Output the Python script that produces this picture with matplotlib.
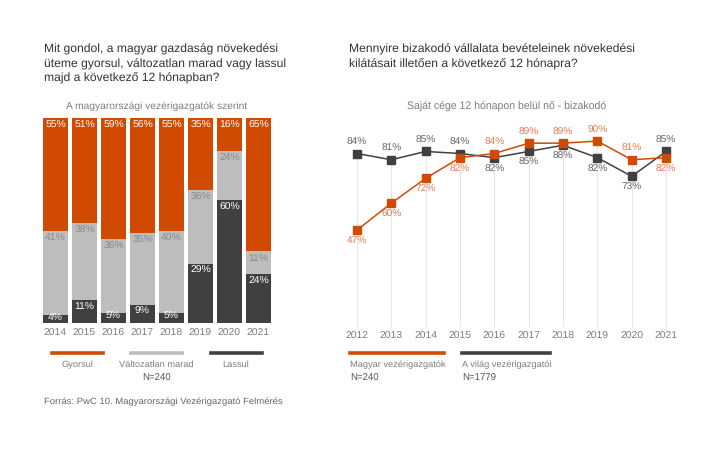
import matplotlib
matplotlib.use("Agg")
import matplotlib.pyplot as plt

plt.rcParams['font.family'] = ['Liberation Sans', 'DejaVu Sans']
plt.rcParams['text.hinting'] = 'no_hinting'

# left chart data
bar_years = ['2014', '2015', '2016', '2017', '2018', '2019', '2020', '2021']
gyorsul = [55, 51, 59, 56, 55, 35, 16, 65]
valtozatlan = [41, 38, 36, 35, 40, 36, 24, 11]
lassul = [4, 11, 5, 9, 5, 29, 60, 24]

# right chart data
line_years = [2012, 2013, 2014, 2015, 2016, 2017, 2018, 2019, 2020, 2021]
magyar = [47, 60, 72, 82, 84, 89, 89, 90, 81, 82]
vilag = [84, 81, 85, 84, 82, 85, 88, 82, 73, 85]
# label placement: 1 above, -1 below
magyar_pos = [-1, -1, -1, -1, 1, 1, 1, 1, 1, -1]
vilag_pos = [1, 1, 1, 1, -1, -1, -1, -1, -1, 1]

ORANGE = '#d04a02'
LIGHT = '#bdbdbd'
DARK = '#404041'
TXT = '#7d7d7d'

W, H = 720, 449
fig = plt.figure(figsize=(W / 100, H / 100), dpi=100)
fig.patch.set_facecolor('white')


def ftext(x, y, s, **kw):
    # place text using pixel coordinates from the top-left corner
    fig.text(x / W, 1 - y / H, s, **kw)


def px_axes(left, top, right, bottom):
    return fig.add_axes([left / W, 1 - bottom / H, (right - left) / W, (bottom - top) / H])


# ---------------- left: stacked bars ----------------
ax1 = px_axes(39.55, 118, 274.45, 323)
xs = range(len(bar_years))
bw = 0.83
ax1.bar(xs, lassul, bw, color=DARK)
ax1.bar(xs, valtozatlan, bw, bottom=lassul, color=LIGHT)
b3 = [l + v for l, v in zip(lassul, valtozatlan)]
ax1.bar(xs, gyorsul, bw, bottom=b3, color=ORANGE)
for i in xs:
    top_l = lassul[i]
    top_v = lassul[i] + valtozatlan[i]
    top_g = top_v + gyorsul[i]
    ax1.text(i, top_g - 1.5, f"{gyorsul[i]}%", ha='center', va='top', color='white', fontsize=7.5)
    ax1.text(i, top_v - 1.5, f"{valtozatlan[i]}%", ha='center', va='top', color='#8a8a8a', fontsize=7.5)
    ax1.text(i, top_l - 1.2 if top_l > 6 else top_l + 0.5, f"{lassul[i]}%",
             ha='center', va='top', color='white', fontsize=7.5)
ax1.set_xlim(-0.55, len(bar_years) - 0.45)
ax1.set_ylim(0, 100)
ax1.set_xticks(list(xs))
ax1.set_xticklabels(bar_years, fontsize=7.5, color=TXT)
ax1.tick_params(length=0, pad=4)
ax1.set_yticks([])
for s in ax1.spines.values():
    s.set_visible(False)

ftext(44, 44, "Mit gondol, a magyar gazdaság növekedési\nüteme gyorsul, változatlan marad vagy lassul\nmajd a következő 12 hónapban?",
      fontsize=8.7, color='#333333', va='top', linespacing=1.36)
ftext(157, 106, "A magyarországi vezérigazgatók szerint", fontsize=7.4, color=TXT, ha='center', va='center')

fig.add_artist(plt.Line2D([52 / W, 103 / W], [1 - 353 / H] * 2, color=ORANGE, lw=2.6))
fig.add_artist(plt.Line2D([131 / W, 182 / W], [1 - 353 / H] * 2, color=LIGHT, lw=2.6))
fig.add_artist(plt.Line2D([211 / W, 262 / W], [1 - 353 / H] * 2, color=DARK, lw=2.6))
ftext(77, 365, "Gyorsul", fontsize=6.7, color=TXT, ha='center', va='center')
ftext(156, 365, "Változatlan marad", fontsize=6.7, color=TXT, ha='center', va='center')
ftext(236, 365, "Lassul", fontsize=6.7, color=TXT, ha='center', va='center')
ftext(157, 378, "N=240", fontsize=6.9, color='#555555', ha='center', va='center')
ftext(44, 402, "Forrás: PwC 10. Magyarországi Vezérigazgató Felmérés", fontsize=6.8, color='#666666', va='center')

# ---------------- right: line chart ----------------
ax2 = px_axes(339.8, 120.4, 683.2, 327.4)
for x, a, b in zip(line_years, magyar, vilag):
    ax2.plot([x, x], [0, max(a, b)], color='#e6e6e6', lw=0.8, zorder=0)
ax2.plot(line_years, vilag, color=DARK, lw=1.1, marker='s', ms=5.8, zorder=3)
ax2.plot(line_years, magyar, color=ORANGE, lw=1.1, marker='s', ms=5.8, zorder=4)
for x, v, p in zip(line_years, magyar, magyar_pos):
    ax2.text(x, v + p * 5.4, f"{v}%", ha='center', va='center', color='#e47a58', fontsize=7.3, zorder=5)
for x, v, p in zip(line_years, vilag, vilag_pos):
    ax2.text(x, v + p * 5.4, f"{v}%", ha='center', va='center', color='#666666', fontsize=7.3, zorder=5)
ax2.set_xlim(2011.5, 2021.5)
ax2.set_ylim(0, 100)
ax2.set_xticks(line_years)
ax2.set_xticklabels([str(y) for y in line_years], fontsize=7.5, color=TXT)
ax2.tick_params(length=0, pad=3)
ax2.set_yticks([])
for s in ax2.spines.values():
    s.set_visible(False)

ftext(349, 44, "Mennyire bizakodó vállalata bevételeinek növekedési\nkilátásait illetően a következő 12 hónapra?",
      fontsize=8.7, color='#333333', va='top', linespacing=1.36)
ftext(507, 106, "Saját cége 12 hónapon belül nő - bizakodó", fontsize=7.6, color=TXT, ha='center', va='center')

fig.add_artist(plt.Line2D([350 / W, 444 / W], [1 - 353 / H] * 2, color=ORANGE, lw=2.6))
fig.add_artist(plt.Line2D([462 / W, 550 / W], [1 - 353 / H] * 2, color=DARK, lw=2.6))
ftext(350, 365, "Magyar vezérigazgatók", fontsize=6.7, color=TXT, va='center')
ftext(462, 365, "A világ vezérigazgatói", fontsize=6.7, color=TXT, va='center')
ftext(350, 378, "N=240", fontsize=6.9, color='#555555', va='center')
ftext(462, 378, "N=1779", fontsize=6.9, color='#555555', va='center')

fig.savefig('out.png', dpi=100, facecolor='white')
